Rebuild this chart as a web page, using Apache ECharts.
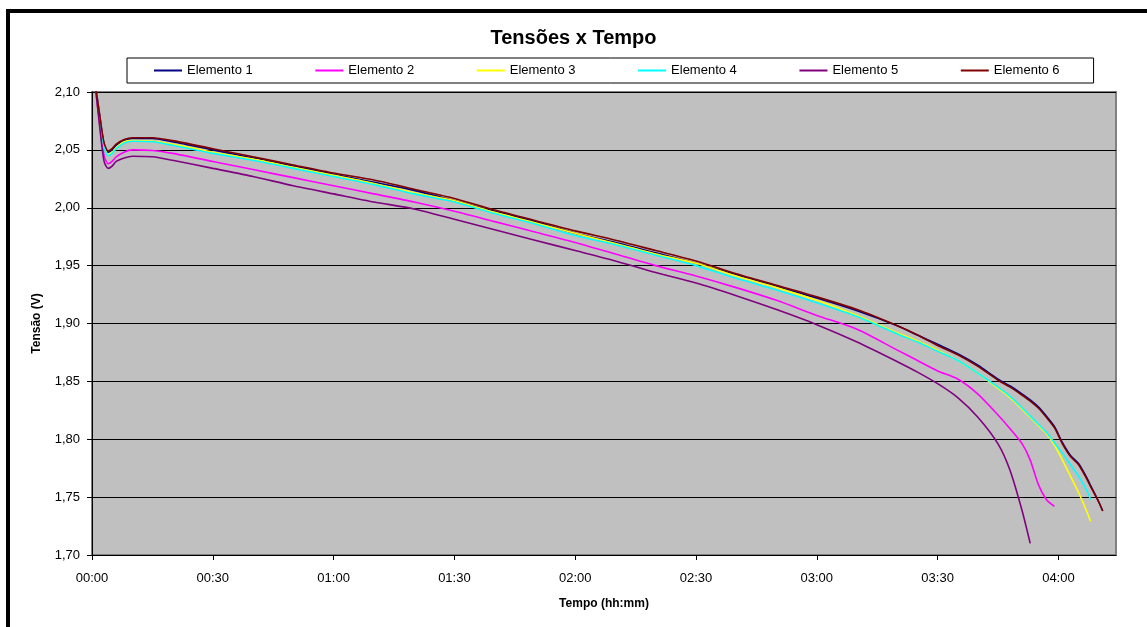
<!DOCTYPE html>
<html>
<head>
<meta charset="utf-8">
<script src="https://cdn.jsdelivr.net/npm/echarts@6/dist/echarts.min.js"></script>
<style>
    html, body { margin: 0; padding: 0; background: #fff; }
    #chart { width: 1147px; height: 627px; }
</style>
</head>
<body>
<div id="chart"></div>
<script>
// time in minutes since start
const minutes = [0, 1, 2, 3, 4, 5, 6, 8, 10, 15, 20, 30, 40, 50, 60, 70, 80, 90, 100, 110, 120, 130, 140, 150,
    160, 170, 180, 190, 200, 205, 210, 215, 220, 225, 228, 231, 233, 235, 237, 239, 241, 243, 245, 247, 248, 250, 251];

// cell voltages (V), null after the element was cut off
const elemento1 = [2.125, 2.102, 2.077, 2.055, 2.048, 2.050, 2.054, 2.058, 2.0598, 2.0598, 2.057, 2.050, 2.043, 2.036, 2.029, 2.022, 2.015, 2.006, 1.997, 1.988, 1.978, 1.970, 1.961, 1.952,
    1.942, 1.932, 1.922, 1.911, 1.898, 1.890, 1.882, 1.874, 1.864, 1.852, 1.846, 1.839, 1.834, 1.828, 1.820, 1.811, 1.797, 1.786, 1.779, 1.767, 1.760, 1.746, 1.738];
const elemento2 = [2.125, 2.100, 2.070, 2.045, 2.038, 2.040, 2.044, 2.048, 2.050, 2.0495, 2.047, 2.040, 2.033, 2.026, 2.019, 2.012, 2.005, 1.997, 1.988, 1.979, 1.970, 1.960, 1.950, 1.941,
    1.931, 1.920, 1.907, 1.895, 1.877, 1.868, 1.859, 1.852, 1.839, 1.821, 1.809, 1.796, 1.782, 1.761, 1.748, 1.742, null, null, null, null, null, null, null];
const elemento3 = [2.125, 2.101, 2.075, 2.053, 2.046, 2.048, 2.052, 2.057, 2.058, 2.0575, 2.055, 2.048, 2.042, 2.035, 2.028, 2.021, 2.013, 2.006, 1.996, 1.987, 1.978, 1.969, 1.960, 1.952,
    1.941, 1.931, 1.920, 1.907, 1.892, 1.885, 1.877, 1.868, 1.857, 1.844, 1.836, 1.826, 1.819, 1.812, 1.805, 1.795, 1.782, 1.768, 1.754, 1.738, 1.729, null, null];
const elemento4 = [2.125, 2.101, 2.075, 2.052, 2.045, 2.047, 2.051, 2.056, 2.0575, 2.057, 2.054, 2.047, 2.041, 2.034, 2.027, 2.020, 2.012, 2.005, 1.995, 1.986, 1.976, 1.968, 1.959, 1.950,
    1.939, 1.929, 1.918, 1.906, 1.891, 1.884, 1.876, 1.868, 1.857, 1.845, 1.837, 1.827, 1.820, 1.813, 1.806, 1.797, 1.788, 1.778, 1.768, 1.756, 1.748, null, null];
const elemento5 = [2.125, 2.099, 2.067, 2.040, 2.034, 2.036, 2.040, 2.043, 2.0445, 2.044, 2.041, 2.034, 2.027, 2.019, 2.012, 2.005, 1.999, 1.990, 1.981, 1.972, 1.963, 1.954, 1.944, 1.935,
    1.924, 1.912, 1.899, 1.884, 1.867, 1.858, 1.848, 1.836, 1.819, 1.796, 1.773, 1.738, 1.710, null, null, null, null, null, null, null, null, null, null];
const elemento6 = [2.125, 2.102, 2.078, 2.056, 2.049, 2.051, 2.055, 2.059, 2.0605, 2.0605, 2.058, 2.051, 2.044, 2.037, 2.030, 2.024, 2.016, 2.008, 1.998, 1.989, 1.980, 1.972, 1.963, 1.954,
    1.943, 1.933, 1.923, 1.912, 1.898, 1.890, 1.881, 1.873, 1.863, 1.851, 1.845, 1.838, 1.833, 1.827, 1.819, 1.810, 1.796, 1.785, 1.778, 1.766, 1.759, 1.746, 1.738];

const seriesNames = ['Elemento 1', 'Elemento 2', 'Elemento 3', 'Elemento 4', 'Elemento 5', 'Elemento 6'];
const seriesValues = [elemento1, elemento2, elemento3, elemento4, elemento5, elemento6];
const seriesColors = ['#000080', '#ff00ff', '#ffff00', '#00ffff', '#800080', '#800000'];

const xTickMinutes = [0, 30, 60, 90, 120, 150, 180, 210, 240];
const xTickLabels = ['00:00', '00:30', '01:00', '01:30', '02:00', '02:30', '03:00', '03:30', '04:00'];

const font = 'Liberation Sans, Arial, sans-serif';

function toPairs(values) {
    const out = [];
    minutes.forEach((t, i) => {
        if (values[i] !== null) out.push([t, values[i]]);
    });
    return out;
}

const chart = echarts.init(document.getElementById('chart'));
chart.setOption({
    animation: false,
    textStyle: { fontFamily: font, color: '#000' },
    title: {
        text: 'Tensões x Tempo',
        left: 'center',
        top: 23,
        textStyle: { fontFamily: font, fontSize: 20, fontWeight: 'bold', color: '#000' }
    },
    legend: {
        data: seriesNames,
        left: 127,
        top: 58,
        padding: [5, 34, 5, 27],
        itemGap: 62.6,
        itemWidth: 28,
        itemHeight: 2,
        icon: 'rect',
        backgroundColor: '#fff',
        borderColor: '#000',
        borderWidth: 1,
        textStyle: { fontFamily: font, fontSize: 13, color: '#000', lineHeight: 15 }
    },
    grid: {
        left: 92,
        top: 92,
        right: 31,
        bottom: 72,
        show: true,
        backgroundColor: '#c0c0c0',
        borderColor: '#808080',
        borderWidth: 2
    },
    xAxis: {
        type: 'value',
        min: 0,
        max: 254.3,
        name: 'Tempo (hh:mm)',
        nameLocation: 'middle',
        nameGap: 43,
        nameTextStyle: { fontFamily: font, fontSize: 12, fontWeight: 'bold', color: '#000' },
        axisLine: { show: true, lineStyle: { color: '#000', width: 1 } },
        axisTick: { show: true, length: 5, customValues: xTickMinutes, lineStyle: { color: '#000' } },
        axisLabel: {
            customValues: xTickMinutes,
            margin: 17,
            fontSize: 13,
            color: '#000',
            formatter: v => xTickLabels[xTickMinutes.indexOf(v)] || ''
        },
        splitLine: { show: false }
    },
    yAxis: {
        type: 'value',
        min: 1.70,
        max: 2.10,
        interval: 0.05,
        name: 'Tensão (V)',
        nameLocation: 'middle',
        nameGap: 49,
        nameTextStyle: { fontFamily: font, fontSize: 12, fontWeight: 'bold', color: '#000' },
        axisLine: { show: true, lineStyle: { color: '#000', width: 1 } },
        axisTick: { show: true, length: 5, lineStyle: { color: '#000' } },
        axisLabel: {
            margin: 12,
            fontSize: 13,
            color: '#000',
            formatter: v => v.toFixed(2).replace('.', ',')
        },
        splitLine: { show: true, lineStyle: { color: '#000', width: 1 } }
    },
    graphic: [{
        type: 'rect',
        silent: true,
        shape: { x: 8, y: 11, width: 1300, height: 800 },
        style: { fill: 'none', stroke: '#000', lineWidth: 4 }
    }],
    series: seriesNames.map((name, i) => ({
        name: name,
        type: 'line',
        data: toPairs(seriesValues[i]),
        symbol: 'none',
        smooth: 0.25,
        color: seriesColors[i],
        lineStyle: { color: seriesColors[i], width: 1.6 }
    }))
});
</script>
</body>
</html>
